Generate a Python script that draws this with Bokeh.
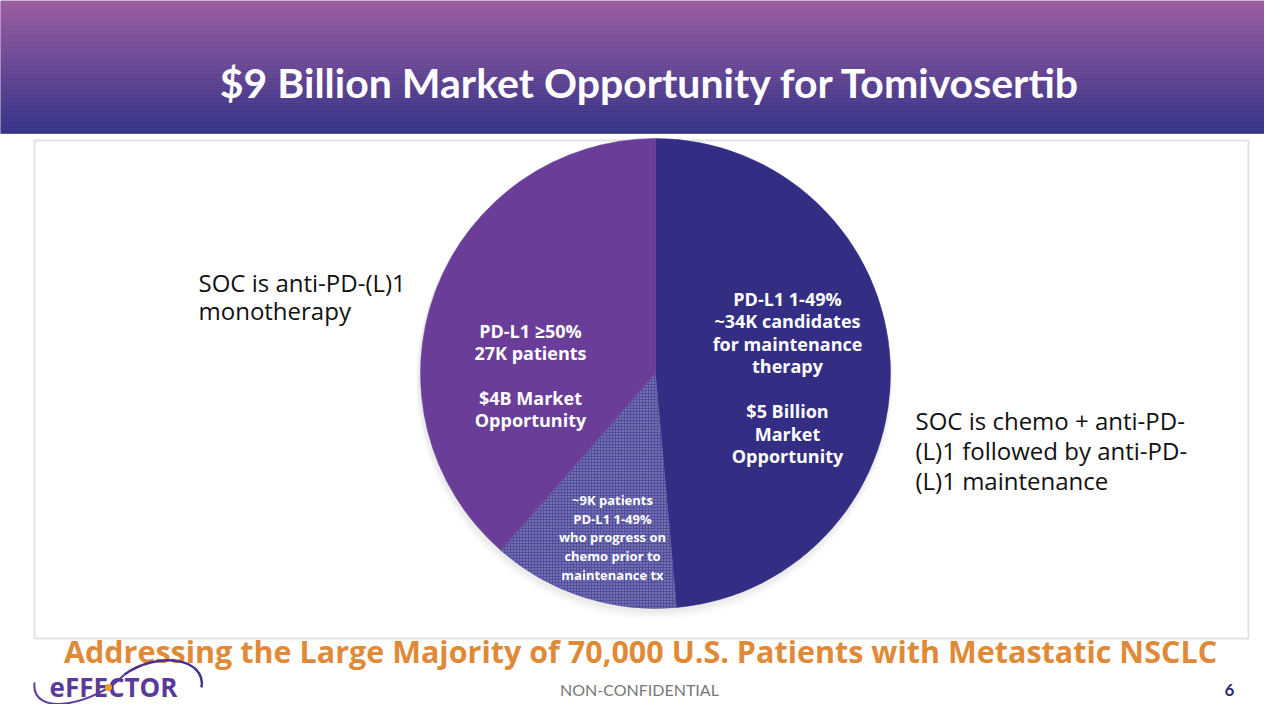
import numpy as np
from bokeh.plotting import figure
from bokeh.models import Range1d, ColumnDataSource
from bokeh.core.properties import value
from bokeh.embed import file_html
from bokeh.resources import INLINE

# ---- data ----
segments = ["PD-L1 1-49% maintenance", "PD-L1 1-49% progress on chemo", "PD-L1 \u226550%"]
patients_k = [34, 9, 27]
seg_colors = ["#332E84", "#524E9E", "#6A3E98"]
seg_labels = [
    "PD-L1 1-49%\n~34K candidates\nfor maintenance\ntherapy\n\n$5 Billion\nMarket\nOpportunity",
    "~9K patients\nPD-L1 1-49%\nwho progress on\nchemo prior to\nmaintenance tx",
    "PD-L1 \u226550%\n27K patients\n\n$4B Market\nOpportunity",
]
title = "$9 Billion Market Opportunity for Tomivosertib"
left_note = "SOC is anti-PD-(L)1\nmonotherapy"
right_note = "SOC is chemo + anti-PD-\n(L)1 followed by anti-PD-\n(L)1 maintenance"
bottom_line = "Addressing the Large Majority of 70,000 U.S. Patients with Metastatic NSCLC"
footer = "NON-CONFIDENTIAL"
page_no = "6"

W, H = 1264, 704
def Y(y):  # reference screen y -> data y
    return 720 - y

p = figure(width=W, height=H, x_range=Range1d(0, 1264), y_range=Range1d(Y(704), Y(0)),
           output_backend="svg", toolbar_location=None, min_border=0)
p.axis.visible = False
p.grid.visible = False
p.outline_line_color = None
p.background_fill_color = "white"
p.border_fill_color = "white"

# header gradient
top = np.array([0x98, 0x5A, 0x9E]); bot = np.array([0x33, 0x2E, 0x86])
n = 66
ys = np.linspace(0, 132, n + 1)
cols = []
for i in range(n):
    t = i / (n - 1)
    c = (top * (1 - t) + bot * t).astype(int)
    cols.append("#%02x%02x%02x" % tuple(c))
p.quad(left=-10, right=1290, top=[Y(v) for v in ys[:-1]], bottom=[Y(v) for v in ys[1:]],
       fill_color=cols, line_color=cols, line_width=0.5)
p.line([-10, 1290], [Y(132.5), Y(132.5)], line_color="#2A2670", line_width=1.5)

p.text([650], [Y(82)], text=[title], text_color="white", text_font=value("Lato"),
       text_font_style="bold", text_font_size="41px", text_align="center", text_baseline="middle")

# chart box
p.quad(left=[34], right=[1248], top=[Y(140)], bottom=[Y(638)], fill_color=None,
       line_color="#E3E3E3", line_width=2)

# pie
cx, cy, r = 655, Y(373), 235
for d, a in [(7, 0.035), (5, 0.045), (3, 0.06)]:
    p.circle([cx - 1], [cy - d], radius=r + d * 0.5, fill_color="#777777", fill_alpha=a, line_color=None)

tot = sum(patients_k)
fr = np.array(patients_k) / tot
cum = np.concatenate([[0], np.cumsum(fr)])
start = np.pi / 2 - cum[:-1] * 2 * np.pi
end = np.pi / 2 - cum[1:] * 2 * np.pi
src = ColumnDataSource(dict(seg=segments, start=start, end=end, color=seg_colors))
for i in range(3):
    kw = {}
    if i == 1:
        kw = dict(hatch_pattern="dot", hatch_color="white", hatch_scale=3, hatch_weight=1, hatch_alpha=0.5)
    p.wedge(x=cx, y=cy, radius=r, start_angle=start[i], end_angle=end[i], direction="clock",
            fill_color=seg_colors[i], line_color=seg_colors[i], line_width=0.5, **kw)

lab_pos = [(787, Y(377)), (612, Y(537)), (530, Y(375))]
lab_size = ["18px", "13px", "18px"]
lab_lh = [0.935, 1.05, 0.935]
for i in range(3):
    p.text([lab_pos[i][0]], [lab_pos[i][1]], text=[seg_labels[i]], text_color="white",
           text_font=value("Open Sans"), text_font_style="bold", text_font_size=lab_size[i],
           text_align="center", text_baseline="middle", text_line_height=lab_lh[i])

p.text([198], [Y(296)], text=[left_note], text_color="#111111", text_font=value("Open Sans"),
       text_font_size="24px", text_align="left", text_baseline="middle", text_line_height=0.86)
p.text([915], [Y(450)], text=[right_note], text_color="#111111", text_font=value("Open Sans"),
       text_font_size="24px", text_align="left", text_baseline="middle", text_line_height=0.92)

p.text([640], [Y(650)], text=[bottom_line], text_color="#E08A38", text_font=value("Open Sans"),
       text_font_style="bold", text_font_size="30.5px", text_align="center", text_baseline="middle")

p.text([639], [Y(689)], text=[footer], text_color="#777777", text_font=value("Lato"),
       text_font_size="16px", text_align="center", text_baseline="middle")
p.text([1229], [Y(689)], text=[page_no], text_color="#2E2A7A", text_font=value("Lato"),
       text_font_style="bold", text_font_size="17px", text_align="center", text_baseline="middle")

# logo
p.bezier(x0=[34], y0=[Y(682)], x1=[124], y1=[Y(674)], cx0=[30], cy0=[Y(718)], cx1=[96], cy1=[Y(704)],
         line_color="#5B3C9C", line_width=2)
p.bezier(x0=[124], y0=[Y(674)], x1=[201], y1=[Y(687)], cx0=[158], cy0=[Y(650)], cx1=[206], cy1=[Y(658)],
         line_color="#4A2F8E", line_width=2.5)
p.text([113], [Y(686)], text=["eFFECTOR"], text_color="#5A3A98", text_font=value("Open Sans"),
       text_font_style="bold", text_font_size="26px", text_align="center", text_baseline="middle")
p.circle([108], [Y(687)], radius=3.5, fill_color="#F09A30", line_color=None)

open("out.html", "w").write(file_html(p, INLINE))
